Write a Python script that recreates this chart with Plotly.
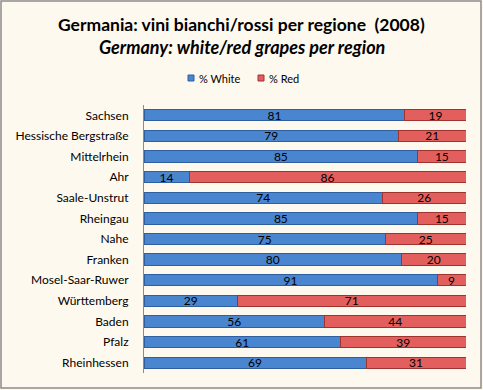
import plotly.graph_objects as go

regions = ["Sachsen", "Hessische Bergstraße", "Mittelrhein", "Ahr", "Saale-Unstrut",
           "Rheingau", "Nahe", "Franken", "Mosel-Saar-Ruwer", "Württemberg",
           "Baden", "Pfalz", "Rheinhessen"]
white = [81, 79, 85, 14, 74, 85, 75, 80, 91, 29, 56, 61, 69]
red = [19, 21, 15, 86, 26, 15, 25, 20, 9, 71, 44, 39, 31]
series_names = ["% White", "% Red"]
title_lines = ["Germania: vini bianchi/rossi per regione  (2008)",
               "Germany: white/red grapes per region"]
colors = ["#4A85D0", "#E35F5D"]
edges = ["#2F5F9E", "#9E3330"]

W, H = 483, 390
L, R, T, B = 144, 17, 105, 17
font = "Lato, Open Sans, sans-serif"
pw = W - L - R
ph = H - T - B


def px_x(x):
    return (x - L) / pw


def px_y(y):
    return 1 - (y - T) / ph


fig = go.Figure()
for name, vals, c, e in zip(series_names, [white, red], colors, edges):
    fig.add_trace(go.Bar(
        y=regions, x=vals, name=name, orientation="h", showlegend=False,
        marker=dict(color=c, line=dict(color=e, width=1)),
        text=vals, textposition="inside", insidetextanchor="middle", textangle=0,
        textfont=dict(color="black", size=12, family=font),
    ))

# chart border
fig.add_shape(type="rect", xref="paper", yref="paper",
              x0=px_x(1), x1=px_x(W - 2), y0=px_y(H - 2), y1=px_y(1),
              line=dict(color="#8C8C8C", width=1.5), layer="below")

# title (two lines)
fig.add_annotation(xref="paper", yref="paper", x=px_x(W / 2), y=px_y(24.5),
                   xanchor="center", yanchor="middle", showarrow=False,
                   text="<b>" + title_lines[0] + "</b>",
                   font=dict(size=17.5, family=font, color="black"))
fig.add_annotation(xref="paper", yref="paper", x=px_x(W / 2), y=px_y(46.5),
                   xanchor="center", yanchor="middle", showarrow=False,
                   text="<b><i>" + title_lines[1] + "</i></b>",
                   font=dict(size=18, family=font, color="black"))

# legend (squares + labels)
leg_sq_x = [188, 258]
leg_tx_x = [197, 267]
for name, c, e, sx, tx in zip(series_names, colors, edges, leg_sq_x, leg_tx_x):
    fig.add_shape(type="rect", xref="paper", yref="paper",
                  x0=px_x(sx), x1=px_x(sx + 6), y0=px_y(81), y1=px_y(75),
                  fillcolor=c, line=dict(color=e, width=1))
    fig.add_annotation(xref="paper", yref="paper", x=px_x(tx), y=px_y(78.5),
                       xanchor="left", yanchor="middle", text=name, showarrow=False,
                       font=dict(size=11, family=font, color="black"))

fig.update_layout(
    width=W, height=H, autosize=False,
    margin=dict(l=L, r=R, t=T, b=B, autoexpand=False),
    barmode="stack", bargap=0.45, showlegend=False,
    paper_bgcolor="#FEF9EE", plot_bgcolor="#FEF9EE",
    font=dict(family=font, size=12, color="black"),
    uniformtext=dict(minsize=8, mode="show"),
)
fig.update_xaxes(range=[0, 100], visible=False, showgrid=False)
fig.update_yaxes(autorange="reversed", showline=True, linecolor="#8C8C8C", linewidth=1,
                 ticks="outside", ticklen=12, tickcolor="rgba(0,0,0,0)",
                 tickfont=dict(size=12, family=font), showgrid=False)

fig.write_html("out.html", config={"displayModeBar": False},
               post_script="document.body.style.margin='0';")
